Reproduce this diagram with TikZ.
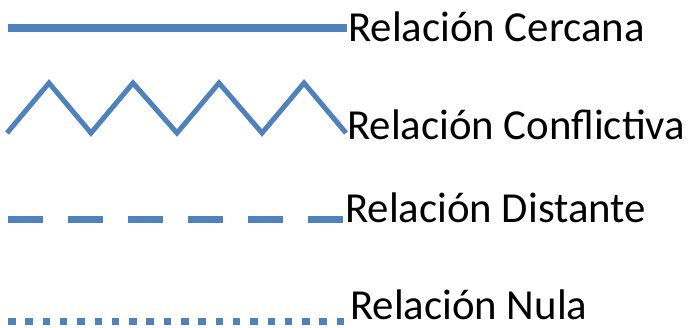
\documentclass[tikz,border=0pt]{standalone}
\usepackage{fontspec}
\setmainfont{Carlito}
\definecolor{lineblue}{RGB}{79,129,189}
\begin{document}
\begin{tikzpicture}[x=1pt,y=-1pt,
  legline/.style={draw=lineblue},
  legtext/.style={anchor=base west,inner sep=0pt,font=\fontsize{42.8}{48}\selectfont}]
\useasboundingbox (0,0) rectangle (697,328);
% Relación Cercana
\coordinate (a1) at (8,28);
\coordinate (a2) at (347,28);
\node[legtext] (t1) at (348,42) {Relación Cercana};
\draw[legline,line width=8pt] (a1) -- (a2);
% Relación Conflictiva
\coordinate (b0) at (7,133);
\coordinate (b1) at (49,83);
\coordinate (b2) at (91,133);
\coordinate (b3) at (133,83);
\coordinate (b4) at (177,133);
\coordinate (b5) at (219,83);
\coordinate (b6) at (262,133);
\coordinate (b7) at (304,83);
\coordinate (b8) at (346,133);
\node[legtext] (t2) at (347,140) {Relación Conflictiva};
\draw[legline,line width=5pt] (b0) -- (b1) -- (b2) -- (b3) -- (b4) -- (b5) -- (b6) -- (b7) -- (b8);
% Relación Distante
\coordinate (c1) at (8,219.5);
\coordinate (c2) at (343,219.5);
\node[legtext] (t3) at (345,223) {Relación Distante};
\draw[legline,line width=7pt,dash pattern=on 35pt off 25pt] (c1) -- (c2);
% Relación Nula
\coordinate (d1) at (8,321.5);
\coordinate (d2) at (344.5,321.5);
\node[legtext] (t4) at (350,320) {Relación Nula};
\draw[legline,line width=7pt,dash pattern=on 7.5pt off 9.8pt] (d1) -- (d2);
\end{tikzpicture}
\end{document}
